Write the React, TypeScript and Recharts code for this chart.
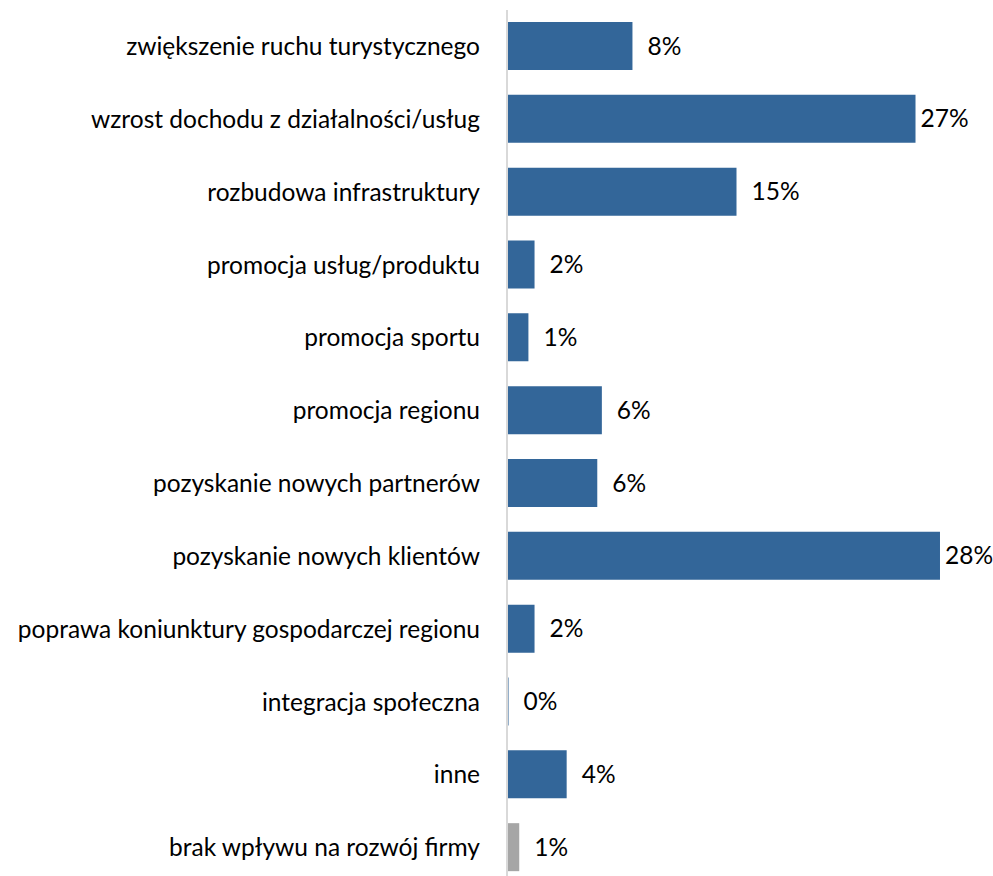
import { BarChart, Bar, XAxis, YAxis, Cell, LabelList } from "recharts";

const categories = [
  "zwiększenie ruchu turystycznego",
  "wzrost dochodu z działalności/usług",
  "rozbudowa infrastruktury",
  "promocja usług/produktu",
  "promocja sportu",
  "promocja regionu",
  "pozyskanie nowych partnerów",
  "pozyskanie nowych klientów",
  "poprawa koniunktury gospodarczej regionu",
  "integracja społeczna",
  "inne",
  "brak wpływu na rozwój firmy",
];

const shares = [8.2, 26.7, 15.0, 1.8, 1.4, 6.2, 5.9, 28.3, 1.8, 0.1, 3.9, 0.8];

const BLUE = "#336699";
const GREY = "#a6a6a6";
const FONT = "Lato, sans-serif";
const FS = 24.5;

const data = categories.map((name, i) => ({ name, value: shares[i] }));

function ValueLabel(props: any) {
  const { x, y, width, height, value } = props;
  const gap = value > 20 ? 5 : 15;
  return (
    <text
      x={x + width + gap}
      y={y + height / 2}
      dy="0.35em"
      fontSize={FS}
      fontFamily={FONT}
      fill="#000"
    >
      {Math.round(value)}%
    </text>
  );
}

export default function App() {
  return (
    <div style={{ position: "absolute", left: 0, top: 0, background: "#fff" }}>
      <BarChart
        width={993}
        height={884}
        data={data}
        layout="vertical"
        margin={{ top: 10, right: 27, bottom: 0, left: 0 }}
        barSize={48}
      >
        <XAxis type="number" domain={[0, 30]} hide />
        <YAxis
          type="category"
          dataKey="name"
          width={507}
          axisLine={{ stroke: "#d9d9d9", strokeWidth: 2 }}
          tickLine={false}
          tickSize={6}
          tickMargin={21}
          interval={0}
          tick={{ fontSize: FS, fontFamily: FONT, fill: "#000" }}
        />
        <Bar dataKey="value" isAnimationActive={false}>
          {data.map((d, i) => (
            <Cell key={d.name} fill={i === data.length - 1 ? GREY : BLUE} />
          ))}
          <LabelList dataKey="value" content={ValueLabel} />
        </Bar>
      </BarChart>
    </div>
  );
}
